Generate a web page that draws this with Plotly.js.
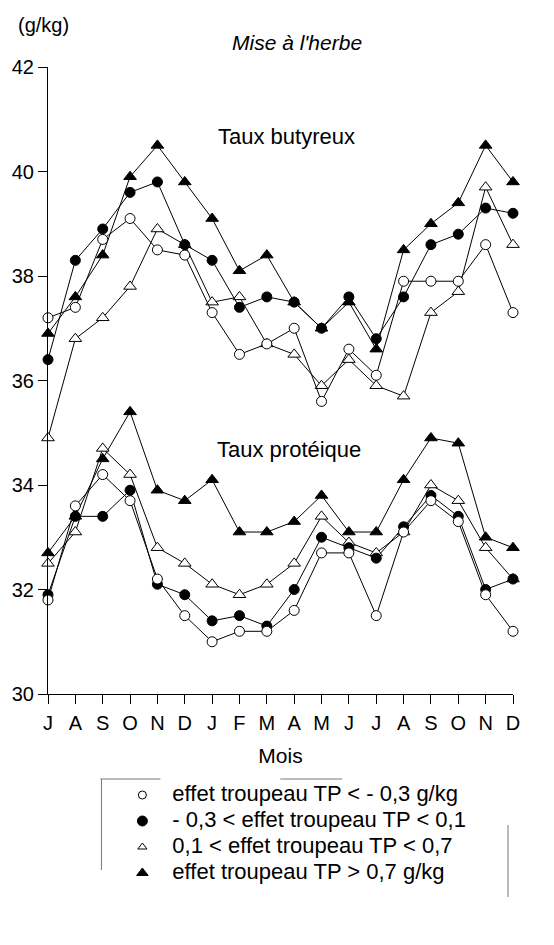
<!DOCTYPE html>
<html><head><meta charset="utf-8">
<script src="https://cdn.plot.ly/plotly-3.0.1.min.js"></script>
<style>html,body{margin:0;padding:0;background:#fff;}#chart{width:554px;height:945px;}</style>
</head><body><div id="chart"></div>
<script>
const months = ['J','A','S','O','N','D','J','F','M','A','M','J','J','A','S','O','N','D'];

// Taux butyreux (g/kg)
const tbOpenCircle   = [37.2,37.4,38.7,39.1,38.5,38.4,37.3,36.5,36.7,37.0,35.6,36.6,36.1,37.9,37.9,37.9,38.6,37.3];
const tbFilledCircle = [36.4,38.3,38.9,39.6,39.8,38.6,38.3,37.4,37.6,37.5,37.0,37.6,36.8,37.6,38.6,38.8,39.3,39.2];
const tbOpenTri      = [34.9,36.8,37.2,37.8,38.9,38.6,37.5,37.6,36.7,36.5,35.9,36.4,35.9,35.7,37.3,37.7,39.7,38.6];
const tbFilledTri    = [36.9,37.6,38.4,39.9,40.5,39.8,39.1,38.1,38.4,37.5,37.0,37.5,36.6,38.5,39.0,39.4,40.5,39.8];

// Taux protéique (g/kg)
const tpOpenCircle   = [31.8,33.6,34.2,33.7,32.2,31.5,31.0,31.2,31.2,31.6,32.7,32.7,31.5,33.1,33.7,33.3,31.9,31.2];
const tpFilledCircle = [31.9,33.4,33.4,33.9,32.1,31.9,31.4,31.5,31.3,32.0,33.0,32.8,32.6,33.2,33.8,33.4,32.0,32.2];
const tpOpenTri      = [32.5,33.1,34.7,34.2,32.8,32.5,32.1,31.9,32.1,32.5,33.4,32.9,32.7,33.1,34.0,33.7,32.8,32.2];
const tpFilledTri    = [32.7,33.4,34.5,35.4,33.9,33.7,34.1,33.1,33.1,33.3,33.8,33.1,33.1,34.1,34.9,34.8,33.0,32.8];

const groupNames = [
  'effet troupeau TP < - 0,3 g/kg',
  '- 0,3 < effet troupeau TP < 0,1',
  '0,1 < effet troupeau TP < 0,7',
  'effet troupeau TP > 0,7 g/kg'
];
const tickValsY = [30,32,34,36,38,40,42];

const idx = months.map((m,i)=>i);
const styles = [
  {symbol:'circle', color:'#ffffff', leg:8},
  {symbol:'circle', color:'#000000', leg:10},
  {symbol:'triangle-up', color:'#ffffff', leg:8},
  {symbol:'triangle-up', color:'#000000', leg:10}
];
const seriesTB = [tbOpenCircle, tbFilledCircle, tbOpenTri, tbFilledTri];
const seriesTP = [tpOpenCircle, tpFilledCircle, tpOpenTri, tpFilledTri];

const traces = [];
function addLine(y, st){
  traces.push({
    x: idx, y: y, type:'scatter', mode:'lines+markers', showlegend:false,
    line:{color:'#000', width:1},
    marker:{symbol:st.symbol, size: st.symbol==='circle'?10:11, color:st.color, opacity:1, line:{color:'#000', width:1}},
    cliponaxis:false
  });
}
[3,2,1,0].forEach(i=>{ addLine(seriesTB[i], styles[i]); addLine(seriesTP[i], styles[i]); });

// legend key drawn on an auxiliary hidden axis pair
const legIdx = groupNames.map((n,i)=>i);
traces.push({
  x: legIdx.map(()=>0), y: legIdx, xaxis:'x2', yaxis:'y2', type:'scatter', mode:'markers',
  showlegend:false, cliponaxis:false,
  marker:{symbol:styles.map(s=>s.symbol), size:styles.map(s=>s.leg), color:styles.map(s=>s.color), opacity:1, line:{color:'#000', width:1}}
});
traces.push({
  x: legIdx.map(()=>1), y: legIdx, xaxis:'x2', yaxis:'y2', type:'scatter', mode:'text',
  text: groupNames, textposition:'middle right', showlegend:false, cliponaxis:false,
  textfont:{size:22, color:'#000', family:'Liberation Sans, Arial, sans-serif'}
});

const L=47.5, R=513, T=67, B=694, W=554, H=945, PB=915;
const px = x => (x-L)/(R-L);
const py = y => (PB-y)/(PB-T);

const layout = {
  width:W, height:H,
  margin:{l:L, r:W-R, t:T, b:H-PB, pad:0},
  paper_bgcolor:'#fff', plot_bgcolor:'rgba(0,0,0,0)',
  font:{family:'Liberation Sans, Arial, sans-serif', color:'#000', size:20},
  showlegend:false,
  xaxis:{range:[0,17], tickmode:'array', tickvals:idx, ticktext:months,
         ticks:'outside', ticklen:9, tickwidth:1, tickcolor:'#000',
         showline:true, linecolor:'#000', linewidth:1, showgrid:false, zeroline:false,
         tickfont:{size:20}, ticklabelstandoff:2, fixedrange:true, anchor:'y',
         title:{text:'Mois', font:{size:21}, standoff:15}},
  yaxis:{range:[30,42], domain:[py(B), 1], tickmode:'array', tickvals:tickValsY,
         ticks:'outside', ticklen:9, tickwidth:1, tickcolor:'#000',
         showline:true, linecolor:'#000', linewidth:1, showgrid:false, zeroline:false,
         tickfont:{size:20}, fixedrange:true, anchor:'x'},
  xaxis2:{domain:[px(142), px(172)], range:[0,1], anchor:'y2', visible:false, fixedrange:true},
  yaxis2:{domain:[py(873), py(795)], range:[3,0], anchor:'x2', visible:false, fixedrange:true},
  annotations:[
    {text:'(g/kg)', xref:'paper', yref:'paper', x:px(43), y:py(25), xanchor:'center', yanchor:'middle', showarrow:false, font:{size:20}},
    {text:'<i>Mise à l\'herbe</i>', xref:'paper', yref:'paper', x:px(297), y:py(43), xanchor:'center', yanchor:'middle', showarrow:false, font:{size:21}},
    {text:'Taux butyreux', xref:'paper', yref:'paper', x:px(286), y:py(137), xanchor:'center', yanchor:'middle', showarrow:false, font:{size:22}},
    {text:'Taux protéique', xref:'paper', yref:'paper', x:px(289), y:py(449), xanchor:'center', yanchor:'middle', showarrow:false, font:{size:22}}
  ],
  shapes:[
    {type:'line', xref:'paper', yref:'paper', x0:px(100), x1:px(160), y0:py(779), y1:py(779), line:{color:'#777', width:1}},
    {type:'line', xref:'paper', yref:'paper', x0:px(280), x1:px(342), y0:py(779), y1:py(779), line:{color:'#777', width:1}},
    {type:'line', xref:'paper', yref:'paper', x0:px(101), x1:px(101), y0:py(779), y1:py(870), line:{color:'#777', width:1}},
    {type:'line', xref:'paper', yref:'paper', x0:px(508), x1:px(508), y0:py(825), y1:py(897), line:{color:'#777', width:1}}
  ]
};
Plotly.newPlot('chart', traces, layout, {displayModeBar:false, staticPlot:true});
</script></body></html>
